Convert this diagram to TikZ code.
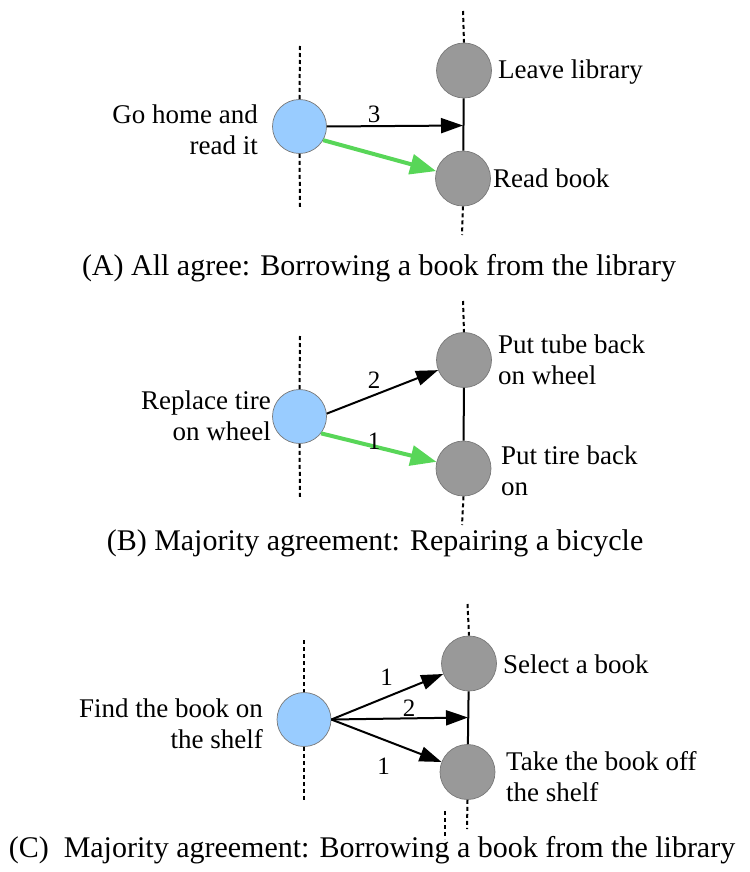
\documentclass[tikz,border=0pt]{standalone}
\usepackage{fontspec}
\setmainfont{Liberation Serif}
\usetikzlibrary{arrows.meta}

\definecolor{startblue}{RGB}{153,204,255}
\definecolor{stepgray}{RGB}{153,153,153}
\definecolor{rimgray}{RGB}{120,120,120}
\definecolor{pickgreen}{RGB}{88,214,88}

\tikzset{
  startnode/.style={circle, fill=startblue, draw=rimgray, line width=0.7pt,
    minimum size=54pt, inner sep=0pt},
  stepnode/.style={circle, fill=stepgray, draw=rimgray, line width=0.7pt,
    minimum size=55pt, inner sep=0pt},
  timeline/.style={line width=2pt, dash pattern=on 4pt off 3pt},
  bar/.style={line width=2pt},
  link/.style={line width=2pt, -{Triangle[length=22pt,width=15pt]}},
  choice/.style={line width=4pt, draw=pickgreen,
    -{Triangle[length=26pt,width=20pt,fill=pickgreen]}},
  txt/.style={inner sep=0pt, font=\fontsize{27}{31}\selectfont},
  num/.style={inner sep=0pt, font=\fontsize{25}{29}\selectfont},
  caption/.style={inner sep=0pt, font=\fontsize{30}{34}\selectfont},
}

\begin{document}
\begin{tikzpicture}[x=1pt, y=-1pt]
\useasboundingbox (0,0) rectangle (749,872);

% ---------- (A) ----------
\node[startnode] (a0) at (299.5,126.5) {};
\node[stepnode] (a1) at (464,70.5) {};
\node[stepnode] (a2) at (463,178.5) {};
\coordinate (a0top) at (300,46);
\coordinate (a0bot) at (300,207);
\coordinate (a1top) at (463,11);
\coordinate (a2bot) at (462,235);
\coordinate (ajoin) at (463,125.5);
\draw[timeline] (a0top) -- (a0.north);
\draw[timeline] (a0.south) -- (a0bot);
\draw[timeline] (a1top) -- (a1.north);
\draw[timeline] (a2.south) -- (a2bot);
\draw[bar] (a1) -- (a2);
\draw[link] (a0.east) -- (ajoin);
\draw[choice] (a0.-30) -- (a2);
\node[num] (a0n) at (374,114) {3};
\node[txt, anchor=east, align=right] (a0t) at (258,130) {Go home and\\read it};
\node[txt, anchor=west] (a1t) at (498,72) {Leave library};
\node[txt, anchor=west] (a2t) at (493,178) {Read book};
\node[caption] (acap) at (379,268) {(A) All agree: Borrowing a book from the library};

% ---------- (B) ----------
\node[startnode] (b0) at (299.5,416.5) {};
\node[stepnode] (b1) at (464,360) {};
\node[stepnode] (b2) at (463.5,468.5) {};
\coordinate (b0top) at (300,336);
\coordinate (b0bot) at (300,497);
\coordinate (b1top) at (463,301);
\coordinate (b2bot) at (462,525);
\draw[timeline] (b0top) -- (b0.north);
\draw[timeline] (b0.south) -- (b0bot);
\draw[timeline] (b1top) -- (b1.north);
\draw[timeline] (b2.south) -- (b2bot);
\draw[bar] (b1) -- (b2);
\draw[link] (b0.6) -- (b1);
\draw[choice] (b0.-38) -- (b2);
\node[num] (b1n) at (374,380) {2};
\node[num] (b2n) at (374,441) {1};
\node[txt, anchor=east, align=right] (b0t) at (271,416) {Replace tire\\on wheel};
\node[txt, anchor=west, align=left] (b1t) at (498,360) {Put tube back\\on wheel};
\node[txt, anchor=west, align=left] (b2t) at (501,471) {Put tire back\\on};
\node[caption] (bcap) at (375,543) {(B) Majority agreement: Repairing a bicycle};

% ---------- (C) ----------
\node[startnode] (c0) at (304,719.5) {};
\node[stepnode] (c1) at (469,663.5) {};
\node[stepnode] (c2) at (467.5,772) {};
\coordinate (c0top) at (304,640);
\coordinate (c0bot) at (304,800);
\coordinate (c1top) at (467.5,604);
\coordinate (c2bot) at (467,829);
\coordinate (cside) at (445,811);
\coordinate (csideend) at (445,839);
\coordinate (cjoin) at (468,717.5);
\draw[timeline] (c0top) -- (c0.north);
\draw[timeline] (c0.south) -- (c0bot);
\draw[timeline] (c1top) -- (c1.north);
\draw[timeline] (c2.south) -- (c2bot);
\draw[timeline] (cside) -- (csideend);
\draw[bar] (c1) -- (c2);
\draw[link] (c0.east) -- (c1);
\draw[link] (c0.east) -- (cjoin);
\draw[link] (c0.east) -- (c2);
\node[num] (c1n) at (386.5,677.5) {1};
\node[num] (cmn) at (409,708) {2};
\node[num] (c2n) at (383.5,766) {1};
\node[txt, anchor=east, align=right] (c0t) at (263,724) {Find the book on\\the shelf};
\node[txt, anchor=west] (c1t) at (503,664) {Select a book};
\node[txt, anchor=west, align=left] (c2t) at (506,777) {Take the book off\\the shelf};
\node[caption] (ccap) at (372,850) {(C)\ \ Majority agreement: Borrowing a book from the library};
\end{tikzpicture}
\end{document}
